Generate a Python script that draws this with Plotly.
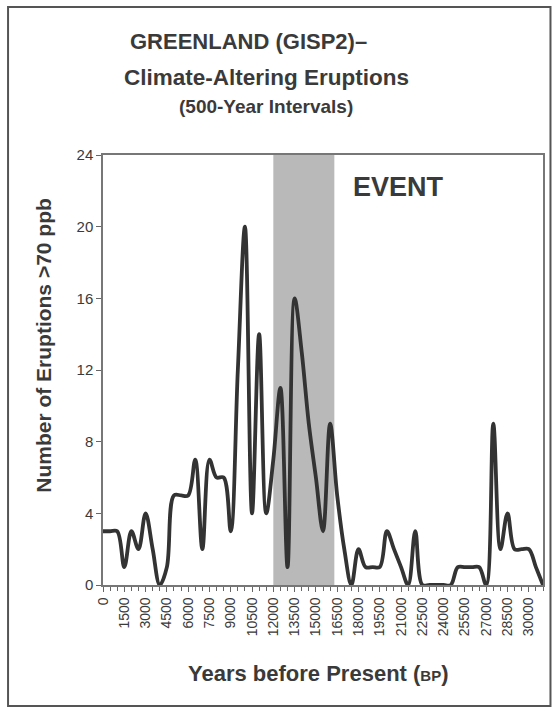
import plotly.graph_objects as go

# Years before present (500-year steps) and number of eruptions > 70 ppb
years = list(range(0, 31001, 500))
eruptions = [3, 3, 3, 1, 3, 2, 4, 2, 0, 1,
             5, 5, 5, 7, 2, 7, 6, 6, 3, 12,
             20, 4, 14, 4, 7, 11, 1, 16, 13, 9,
             6, 3, 9, 5, 2, 0, 2, 1, 1, 1,
             3, 2, 1, 0, 3, 0, 0, 0, 0, 0,
             1, 1, 1, 1, 0, 9, 2, 4, 2, 2,
             2, 1, 0]

event_start = 12000
event_end = 16300

x_tick_vals = list(range(0, 30001, 1500))
x_tick_text = [str(v) for v in x_tick_vals]
y_tick_vals = [0, 4, 8, 12, 16, 20, 24]

FONT = "Liberation Sans, Arial, sans-serif"
TXT = "#3a3a3a"

fig = go.Figure()
fig.add_trace(go.Scatter(
    x=years, y=eruptions, mode="lines",
    line=dict(color="#333333", width=3.8, shape="spline", smoothing=1.0),
    hoverinfo="x+y", showlegend=False))

fig.add_shape(type="rect", xref="x", yref="y", x0=event_start, x1=event_end,
              y0=0, y1=24, fillcolor="#b9b9b9", line=dict(width=0), layer="below")

# outer frame
fig.add_shape(type="rect", xref="paper", yref="paper",
              x0=-0.2158, x1=1.017, y0=-0.2814, y1=1.344,
              line=dict(color="#555555", width=2), fillcolor="rgba(0,0,0,0)")

fig.update_layout(
    width=557, height=715,
    margin=dict(l=102.5, r=12, t=155, b=130),
    paper_bgcolor="white", plot_bgcolor="white",
    font=dict(family=FONT, color=TXT),
    xaxis=dict(range=[0, 31000], tickmode="array", tickvals=x_tick_vals,
               ticktext=x_tick_text, tickangle=-90,
               tickfont=dict(size=14, color=TXT, family=FONT),
               ticks="outside", ticklen=5, tickcolor="#666",
               minor=dict(dtick=500, ticks="outside", ticklen=4, tickcolor="#666"),
               showline=True, linecolor="#777", linewidth=1.5, mirror=True,
               showgrid=False, zeroline=False),
    yaxis=dict(range=[0, 24], tickmode="array", tickvals=y_tick_vals,
               tickfont=dict(size=15, color=TXT, family=FONT),
               ticks="outside", ticklen=5, tickcolor="#666",
               showline=True, linecolor="#777", linewidth=1.5, mirror=True,
               showgrid=False, zeroline=False),
    annotations=[
        dict(text="<b>GREENLAND (GISP2)–</b>", xref="paper", yref="paper",
             x=0.331, y=1.263, showarrow=False, font=dict(size=22, color=TXT),
             xanchor="center", yanchor="middle"),
        dict(text="<b>Climate-Altering Eruptions</b>", xref="paper", yref="paper",
             x=0.372, y=1.181, showarrow=False, font=dict(size=22.5, color=TXT),
             xanchor="center", yanchor="middle"),
        dict(text="<b>(500-Year Intervals)</b>", xref="paper", yref="paper",
             x=0.370, y=1.112, showarrow=False, font=dict(size=19, color=TXT),
             xanchor="center", yanchor="middle"),
        dict(text="<b>Number of Eruptions &gt;70 ppb</b>", xref="paper", yref="paper",
             x=-0.137, y=0.558, showarrow=False, textangle=-90,
             font=dict(size=21, color=TXT), xanchor="center", yanchor="middle"),
        dict(text="<b>Years before Present (<span style='font-size:15px'>BP</span>)</b>",
             xref="paper", yref="paper", x=0.489, y=-0.205, showarrow=False,
             font=dict(size=22, color=TXT), xanchor="center", yanchor="middle"),
        dict(text="<b>EVENT</b>", xref="x", yref="y", x=20810, y=22.2,
             showarrow=False, font=dict(size=27, color=TXT),
             xanchor="center", yanchor="middle"),
    ],
)

fig.write_html("out.html", config={"displayModeBar": False},
               post_script="document.body.style.margin='0';document.body.style.padding='0';")
